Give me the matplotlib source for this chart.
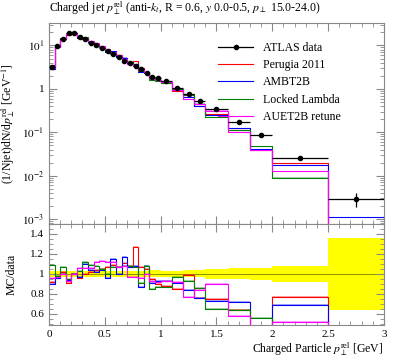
import numpy as np
import matplotlib
matplotlib.use("Agg")
import matplotlib.pyplot as plt
from matplotlib.lines import Line2D
from matplotlib.ticker import FixedLocator, MultipleLocator, NullFormatter

plt.rcParams['font.family'] = ['Liberation Serif', 'DejaVu Serif']
plt.rcParams['mathtext.fontset'] = 'stix'
plt.rcParams['font.size'] = 8

# bin edges of the pT-rel histogram
edges = [0.0, 0.05, 0.1, 0.15, 0.2, 0.25, 0.3, 0.35, 0.4, 0.45, 0.5,
         0.55, 0.6, 0.65, 0.7, 0.75, 0.8, 0.85, 0.9, 0.95, 1.0,
         1.1, 1.2, 1.3, 1.4, 1.6, 1.8, 2.0, 2.5, 3.0]

# ATLAS data
data = [3.2, 9.7, 13.8, 19.3, 19.3, 15.6, 13.8, 11.7, 10.2, 8.7,
        7.4, 6.4, 5.5, 4.5, 3.85, 3.4, 2.85, 2.3, 1.92, 1.74,
        1.53, 1.05, 0.77, 0.53, 0.35, 0.176, 0.087, 0.025, 0.0029]
data_relerr = [0.03, 0.03, 0.03, 0.03, 0.03, 0.03, 0.03, 0.03, 0.03, 0.03,
               0.03, 0.03, 0.03, 0.03, 0.03, 0.03, 0.03, 0.03, 0.035, 0.035,
               0.03, 0.03, 0.035, 0.035, 0.047, 0.055, 0.058, 0.08, 0.36]

# MC / data ratios
perugia = [0.92, 0.96, 1.02, 0.91, 1.0, 0.96, 1.0, 1.02, 1.04, 1.05,
           1.07, 1.09, 1.07, 1.11, 1.08, 1.27, 1.07, 1.05, 0.95, 0.90,
           0.88, 0.85, 0.99, 0.76, 0.75, 0.64, 0.44, 0.77, 0.2]
ambt2b = [0.90, 0.96, 1.0, 0.94, 1.0, 0.97, 1.10, 1.04, 1.02, 1.04,
          0.96, 1.15, 1.0, 1.17, 1.07, 1.08, 0.87, 1.08, 0.91, 0.93,
          0.93, 0.91, 0.84, 0.76, 0.73, 0.72, 0.48, 0.69, 0.38]
locked = [1.09, 0.98, 1.07, 0.95, 1.0, 1.03, 1.12, 1.09, 1.08, 1.05,
          1.0, 1.07, 1.07, 1.08, 1.08, 1.07, 0.91, 1.08, 0.85, 0.87,
          0.87, 0.97, 0.93, 0.86, 0.65, 0.64, 0.56, 0.36, 0.2]
auet2b = [0.96, 0.97, 1.0, 0.93, 1.0, 1.06, 1.06, 1.06, 1.12, 1.13,
          1.12, 1.12, 1.07, 1.08, 0.97, 0.97, 0.96, 1.0, 0.93, 0.92,
          0.93, 0.92, 0.77, 0.84, 0.9, 0.58, 0.46, 0.52, 0.2]

mc_names = ['Perugia 2011', 'AMBT2B', 'Locked Lambda', 'AUET2B retune']
mc_ratios = [perugia, ambt2b, locked, auet2b]
mc_colors = ['#ff0000', '#0000ff', '#008000', '#ff00ff']

edges = np.array(edges)
data = np.array(data)
derr = data * np.array(data_relerr)
centers = 0.5 * (edges[:-1] + edges[1:])
halfw = 0.5 * np.diff(edges)

fig = plt.figure(figsize=(3.97, 3.58), dpi=100)
ax = fig.add_axes([0.1234, 0.3743, 0.8436, 0.5615])
rax = fig.add_axes([0.1234, 0.0922, 0.8436, 0.2821], sharex=ax)

def stepvals(v):
    v = np.asarray(v, dtype=float)
    return np.append(v, v[-1])

handles = [Line2D([], [], color='black', lw=0.9, marker='o', ms=3)]
for r, c, name in zip(mc_ratios, mc_colors, mc_names):
    mc = data * np.array(r)
    err = mc * 0.012
    ax.fill_between(edges, stepvals(mc - err), stepvals(mc + err),
                    step='post', color=c, alpha=0.35, lw=0)
    ln, = ax.step(edges, stepvals(mc), where='post', color=c, lw=0.8)
    handles.append(ln)
    rr = np.array(r)
    rax.fill_between(edges, stepvals(rr - 0.012), stepvals(rr + 0.012),
                     step='post', color=c, alpha=0.35, lw=0)
    rax.step(edges, stepvals(rr), where='post', color=c, lw=0.8)

ax.errorbar(centers, data, xerr=halfw, yerr=derr, fmt='o', color='black',
            ms=3, lw=0.9, capsize=0, zorder=5)

ax.set_yscale('log')
ax.set_ylim(7.7e-4, 33)
ax.set_xlim(0, 3)
ax.yaxis.set_major_locator(FixedLocator([1e-3, 1e-2, 1e-1, 1, 10]))
ax.set_yticklabels([r'$10^{-3}$', r'$10^{-2}$', r'$10^{-1}$', '1', r'$10^{1}$'])
ax.yaxis.set_minor_locator(FixedLocator(
    [m * 10.0 ** e for e in range(-4, 2) for m in range(2, 10)]))
ax.yaxis.set_minor_formatter(NullFormatter())
plt.setp(ax.get_xticklabels(), visible=False)

# data uncertainty band in ratio
rel = np.array(data_relerr)
rax.fill_between(edges, stepvals(1 - rel), stepvals(1 + rel), step='post',
                 color='#ffff00', lw=0, zorder=0)
rax.axhline(1.0, color='#808000', lw=0.6, zorder=0.5)
rax.set_ylim(0.49, 1.5)
rax.yaxis.set_major_locator(FixedLocator([0.6, 0.8, 1.0, 1.2, 1.4]))
rax.set_yticklabels(['0.6', '0.8', '1', '1.2', '1.4'])
rax.yaxis.set_minor_locator(MultipleLocator(0.05))
rax.xaxis.set_major_locator(FixedLocator([0, 0.5, 1, 1.5, 2, 2.5, 3]))
rax.set_xticklabels(['0', '0.5', '1', '1.5', '2', '2.5', '3'])
rax.xaxis.set_minor_locator(MultipleLocator(0.1))

for a in (ax, rax):
    a.tick_params(which='both', direction='in', top=True, right=True,
                  color='#888888', labelsize=8)
    a.tick_params(which='major', length=6)
    a.tick_params(which='minor', length=3)
    for s in a.spines.values():
        s.set_color('#888888')
        s.set_linewidth(0.8)

ax.text(0.0, 1.03, r'Charged jet $p_\perp^\mathrm{rel}$ (anti-$k_t$, R = 0.6, $y$ 0.0-0.5, $p_\perp$ 15.0-24.0)',
        transform=ax.transAxes, ha='left', va='bottom', fontsize=8.5)

ax.set_ylabel(r'(1/Njet)dN/d$p_\perp^\mathrm{rel}$ [GeV$^{-1}$]', fontsize=8.5)
rax.set_ylabel('MC/data', fontsize=8.5)
ax.yaxis.set_label_coords(-0.095, 0.5)
rax.yaxis.set_label_coords(-0.095, 0.5)
rax.set_xlabel(r'Charged Particle $p_\perp^\mathrm{rel}$ [GeV]', fontsize=8.5,
               ha='right', x=1.0, labelpad=1)

ax.legend(handles, ['ATLAS data'] + mc_names,
          loc='upper left', bbox_to_anchor=(0.49, 0.93), frameon=False,
          fontsize=8.5, handlelength=3, handletextpad=0.8, labelspacing=0.45,
          borderaxespad=0)

fig.savefig('out.png', dpi=100)
